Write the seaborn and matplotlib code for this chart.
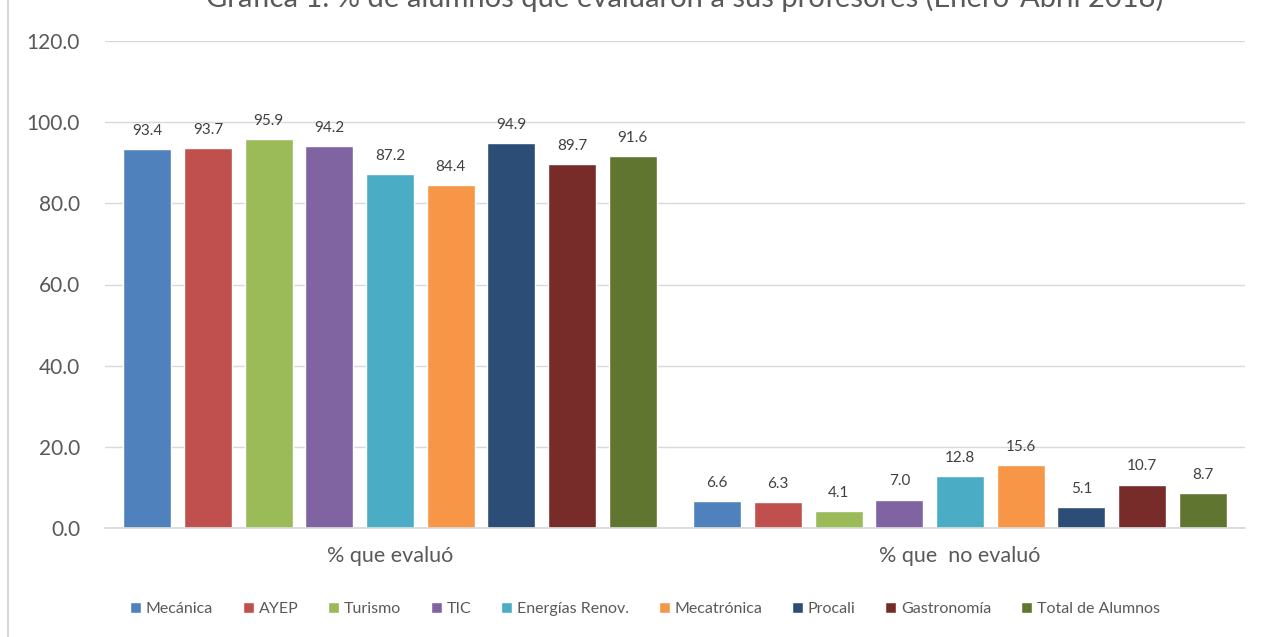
import numpy as np
import pandas as pd
import seaborn as sns
from matplotlib import pyplot as plt
from matplotlib.lines import Line2D

TITLE = "Gráfica 1. % de alumnos que evaluaron a sus profesores (Enero-Abril 2018)"

categories = ["% que evaluó", "% que  no evaluó"]
carreras = ["Mecánica", "AYEP", "Turismo", "TIC", "Energías Renov.",
            "Mecatrónica", "Procali", "Gastronomía", "Total de Alumnos"]
evaluo = [93.4, 93.7, 95.9, 94.2, 87.2, 84.4, 94.9, 89.7, 91.6]
no_evaluo = [6.6, 6.3, 4.1, 7.0, 12.8, 15.6, 5.1, 10.7, 8.7]
colors = ["#4F81BD", "#C0504D", "#9BBB59", "#8064A2", "#4BACC6",
          "#F79646", "#2C4D75", "#772C2A", "#5F7530"]

rows = []
for name, a, b in zip(carreras, evaluo, no_evaluo):
    rows.append({"categoria": categories[0], "carrera": name, "valor": a})
    rows.append({"categoria": categories[1], "carrera": name, "valor": b})
df = pd.DataFrame(rows)

sns.set_theme(style="white")
plt.rcParams["font.family"] = ["Lato", "DejaVu Sans"]

fig = plt.figure(figsize=(12.65, 6.37), dpi=100)
ax = fig.add_axes([105 / 1265, 1 - 528 / 637, 1140 / 1265, 487 / 637])

sns.barplot(data=df, x="categoria", y="valor", hue="carrera",
            order=categories, hue_order=carreras, palette=colors,
            width=0.958, gap=0.21, saturation=1, ax=ax, legend=True)

for cont in ax.containers:
    ax.bar_label(cont, fmt="%.1f", padding=8, fontsize=11, color="#404040")

ax.set_ylim(0, 120)
ax.set_xlim(-0.5, 1.5)
ax.set_yticks(np.arange(0, 121, 20))
ax.set_yticklabels([f"{v:.1f}" for v in np.arange(0, 121, 20)],
                   fontsize=15, color="#595959")
ax.tick_params(axis="x", labelsize=15.5, labelcolor="#595959", pad=13, length=0)
ax.tick_params(axis="y", pad=18, length=0)
ax.yaxis.grid(True, color="#D9D9D9", linewidth=1)
ax.set_axisbelow(True)
ax.set_xlabel("")
ax.set_ylabel("")
for side in ["top", "right", "left"]:
    ax.spines[side].set_visible(False)
ax.spines["bottom"].set_color("#D9D9D9")

ax.legend(loc="center", bbox_to_anchor=((645 - 105) / 1140, (1 - 609 / 637 - (1 - 528 / 637)) / (487 / 637)),
          ncol=9, frameon=False, fontsize=11.5, handlelength=0.7, handleheight=0.7,
          handletextpad=0.3, columnspacing=1.85, labelcolor="#595959")

fig.text(685 / 1265, 1.003, TITLE, ha="center", va="center", fontsize=21, color="#595959")
fig.add_artist(Line2D([8 / 1265, 8 / 1265], [0, 1], color="#D9D9D9", linewidth=1.5))

fig.savefig("out.png", dpi=100)
